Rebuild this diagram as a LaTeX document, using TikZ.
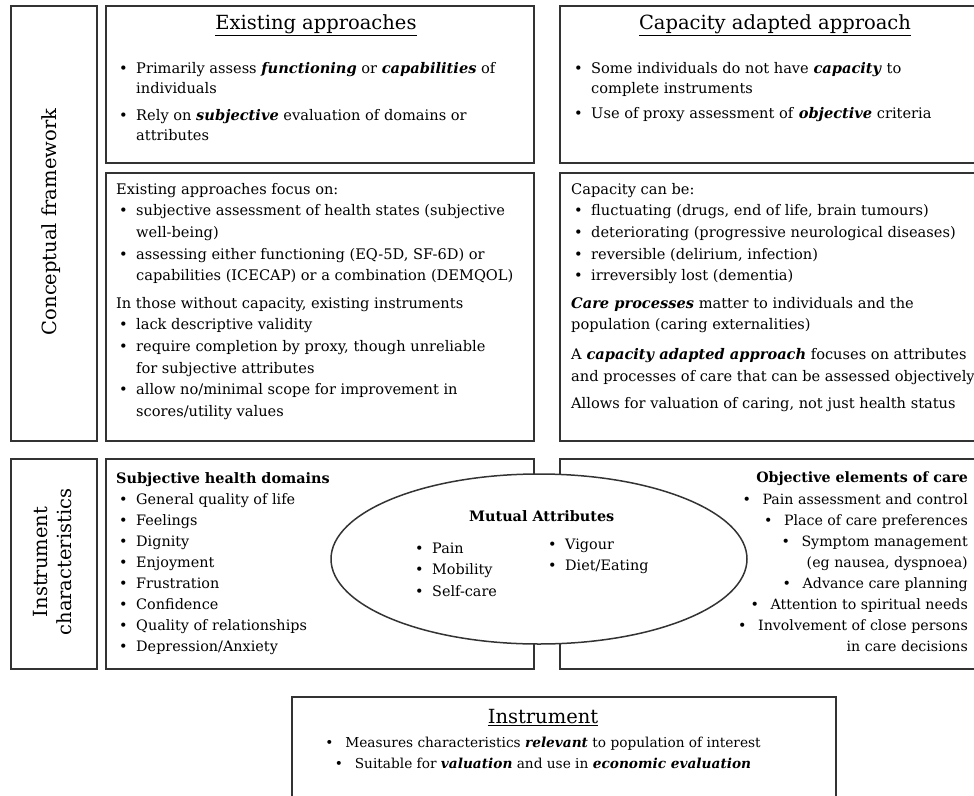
\documentclass[tikz,border=0pt]{standalone}
\usepackage{fontspec}
\setmainfont{DejaVu Serif}
\usetikzlibrary{positioning,shapes.geometric}

\newcommand{\bul}{\hspace*{3pt}\makebox[17pt][l]{\textbullet}}
\newcommand{\ind}{\hspace*{20pt}}
\newcommand{\emp}[1]{\textbf{\textit{#1}}}
\newcommand{\rbul}{\makebox[20pt][l]{\textbullet}}

\begin{document}
\begin{tikzpicture}[x=1pt, y=-1pt,
    panel/.style={draw=black!80, line width=1.5pt, anchor=north west, inner sep=0pt},
    body/.style={anchor=north west, align=left, inner sep=0pt, font=\fontsize{14.6}{20}\selectfont},
    wide/.style={body, font=\fontsize{14.6}{21.6}\selectfont},
    list/.style={body, font=\fontsize{14.4}{21.1}\selectfont},
    head/.style={inner sep=0pt, font=\fontsize{19.5}{24}\selectfont}]
  \useasboundingbox (0,0) rectangle (974,795);
  \clip (0,0) rectangle (974,795);
  \fill[white] (0,0) rectangle (974,795);

  \node[panel, minimum width=86pt,  minimum height=435pt] (cfbox)  at (10,5)    {};
  \node[panel, minimum width=428pt, minimum height=157pt] (exbox)  at (105,5)   {};
  \node[panel, minimum width=432pt, minimum height=157pt] (cabox)  at (559,5)   {};
  \node[panel, minimum width=428pt, minimum height=268pt] (focbox) at (105,172) {};
  \node[panel, minimum width=432pt, minimum height=268pt] (capbox) at (559,172) {};
  \node[panel, minimum width=86pt,  minimum height=210pt] (icbox)  at (10,458)  {};
  \node[panel, minimum width=428pt, minimum height=210pt] (subbox) at (105,458) {};
  \node[panel, minimum width=432pt, minimum height=210pt] (objbox) at (559,458) {};
  \node[panel, minimum width=544pt, minimum height=130pt] (insbox) at (291,696) {};
  \node[ellipse, draw=black!80, line width=1.5pt, fill=white,
        minimum width=416pt, minimum height=170pt] (mutual) at (539,559) {};

  \node[head, rotate=90]               (cftext) at (51,222) {Conceptual framework};
  \node[head, rotate=90, align=center] (ictext) at (53,562) {Instrument\\characteristics};

  \node[head] (extitle)  at (316,25)  {\underline{Existing approaches}};
  \node[head] (catitle)  at (775,25)  {\underline{Capacity adapted approach}};
  \node[head] (institle) at (543,718) {\underline{Instrument}};

  \node[body] (extext) at (116,62) {%
    \bul Primarily assess \emp{functioning} or \emp{capabilities} of\\
    \ind individuals\\[7pt]
    \bul Rely on \emp{subjective} evaluation of domains or\\
    \ind attributes};
  \node[body] (catext) at (571,62) {%
    \bul Some individuals do not have \emp{capacity} to\\
    \ind complete instruments\\[5pt]
    \bul Use of proxy assessment of \emp{objective} criteria};

  \node[wide] (foctext) at (116,183) {%
    Existing approaches focus on:\\
    \bul subjective assessment of health states (subjective\\
    \ind well-being)\\
    \bul assessing either functioning (EQ-5D, SF-6D) or\\
    \ind capabilities (ICECAP) or a combination (DEMQOL)\\[6pt]
    In those without capacity, existing instruments\\
    \bul lack descriptive validity\\
    \bul require completion by proxy, though unreliable\\
    \ind for subjective attributes\\
    \bul allow no/minimal scope for improvement in\\
    \ind scores/utility values};
  \node[wide] (captext) at (571,183) {%
    Capacity can be:\\
    \bul fluctuating (drugs, end of life, brain tumours)\\
    \bul deteriorating (progressive neurological diseases)\\
    \bul reversible (delirium, infection)\\
    \bul irreversibly lost (dementia)\\[6pt]
    \emp{Care processes} matter to individuals and the\\
    population (caring externalities)\\[8pt]
    A \emp{capacity adapted approach} focuses on attributes\\
    and processes of care that can be assessed objectively\\[6pt]
    Allows for valuation of caring, not just health status};

  \node[list] (subtext) at (116,472) {%
    \textbf{Subjective health domains}\\
    \bul General quality of life\\
    \bul Feelings\\
    \bul Dignity\\
    \bul Enjoyment\\
    \bul Frustration\\
    \bul Confidence\\
    \bul Quality of relationships\\
    \bul Depression/Anxiety};
  \node[list, font=\fontsize{14.2}{21.1}\selectfont, anchor=north east, align=right] (objtext) at (968,472) {%
    \textbf{Objective elements of care}\\
    \rbul Pain assessment and control\\
    \rbul Place of care preferences\\
    \rbul Symptom management\\
    (eg nausea, dyspnoea)\\
    \rbul Advance care planning\hspace*{9pt}\\
    \rbul Attention to spiritual needs\\
    \rbul Involvement of close persons\\
    in care decisions};

  \node[list, font=\fontsize{14.4}{21.1}\bfseries] (mutitle) at (469,510) {Mutual Attributes};
  \node[list] (mutleft)  at (412,543) {%
    \bul Pain\\
    \bul Mobility\\
    \bul Self-care};
  \node[list] (mutright) at (545,539) {%
    \bul Vigour\\
    \bul Diet/Eating};

  \node[body, font=\fontsize{13.7}{20.5}\selectfont, anchor=north, align=center] (instext) at (543,737) {%
    \rbul Measures characteristics \emp{relevant} to population of interest\\
    \rbul Suitable for \emp{valuation} and use in \emp{economic evaluation}};
\end{tikzpicture}
\end{document}
